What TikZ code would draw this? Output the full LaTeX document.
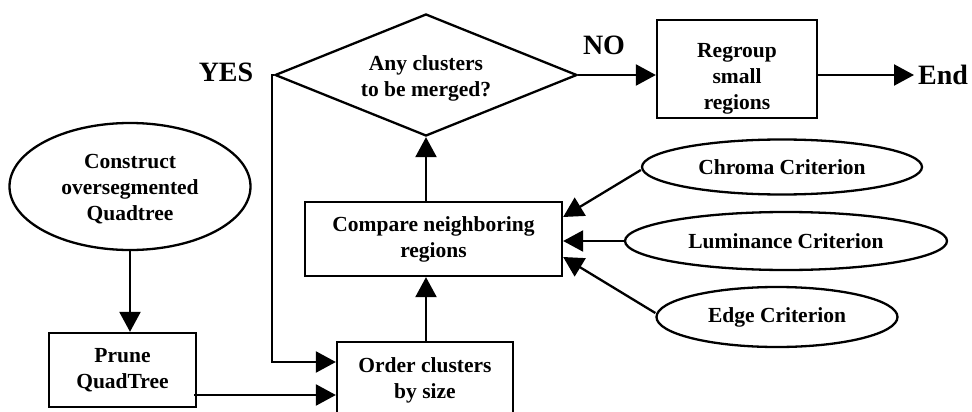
\documentclass[tikz,border=0pt]{standalone}
\usepackage{fontspec}
\setmainfont{Liberation Serif}
\usetikzlibrary{shapes.geometric,arrows.meta,calc}
\begin{document}
\begin{tikzpicture}[x=1pt,y=-1pt,
  every node/.style={font=\fontsize{21.5pt}{26pt}\selectfont\bfseries, inner sep=0pt, align=center},
  box/.style={draw, line width=2.3pt, rectangle},
  ell/.style={draw, line width=2.3pt, ellipse},
  big/.style={font=\fontsize{28pt}{30pt}\selectfont\bfseries},
  arr/.style={line width=2.3pt, -{Triangle[length=20pt,width=21pt]}}]
\useasboundingbox (0,0) rectangle (972,412);
% nodes
\node[draw, line width=2.3pt, diamond, aspect=2.48, minimum width=302pt, minimum height=122pt] (dia) at (426,75) {\raisebox{-3pt}[\height][\depth]{\begin{tabular}{@{}c@{}}Any clusters\\to be merged?\end{tabular}}};
\node[box, minimum width=160pt, minimum height=98pt] (rg) at (737,69) {\raisebox{-9pt}[\height][\depth]{\begin{tabular}{@{}c@{}}Regroup\\small\\regions\end{tabular}}};
\node[big, anchor=west] (end) at (918,75) {End};
\node[big] (yes) at (226,72) {YES};
\node[big] (no) at (604,45) {NO};
\node[ell, minimum width=241pt, minimum height=127pt] (con) at (130,186.5) {\raisebox{-3pt}[\height][\depth]{\begin{tabular}{@{}c@{}}Construct\\oversegmented\\Quadtree\end{tabular}}};
\node[box, minimum width=147pt, minimum height=74pt] (pr) at (122.5,370) {Prune\\QuadTree};
\node[box, minimum width=257pt, minimum height=74pt] (cmp) at (433.5,239) {Compare neighboring\\regions};
\node[box, minimum width=176pt, minimum height=76pt] (ord) at (425,380) {Order clusters\\by size};
\node[ell, minimum width=280pt, minimum height=55pt] (chr) at (782,167) {Chroma Criterion};
\node[ell, minimum width=322pt, minimum height=58pt] (lum) at (786,241) {Luminance Criterion};
\node[ell, minimum width=241pt, minimum height=60pt] (edg) at (777,317) {Edge Criterion};
% connectors
\draw[arr] (dia.east) -- (rg.west |- dia.east);
\draw[arr] (rg.east |- end.west) -- ([xshift=-4pt]end.west);
\draw[arr] (con.south) -- (con.south |- pr.north);
\coordinate (o1) at ([yshift=18pt]ord.west);
\coordinate (o2) at ([yshift=-15pt]ord.west);
\draw[arr] (dia.west) -- ++(-2,0) |- (o1);
\draw[arr] ([xshift=-3pt]pr.east |- o2) -- (o2);
\draw[arr] (ord.north -| 426,0) -- (cmp.south -| 426,0);
\draw[arr] (cmp.north -| 426,0) -- (dia.south);
\draw[arr] ([yshift=-3pt]chr.west) -- ([yshift=22pt]cmp.east);
\draw[arr] (lum.west) -- (cmp.east |- lum.west);
\draw[arr] ([yshift=4pt]edg.west) -- ([yshift=-18pt]cmp.east);
\end{tikzpicture}
\end{document}
